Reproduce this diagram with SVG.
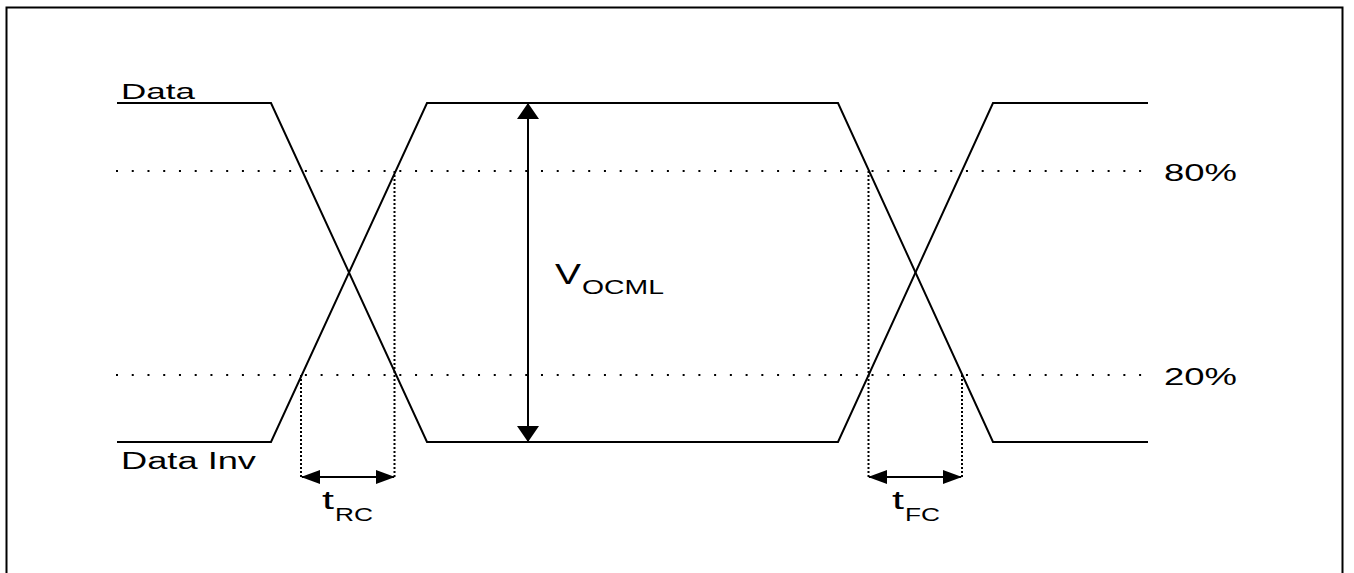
<svg xmlns="http://www.w3.org/2000/svg" width="1354" height="573" viewBox="0 0 1354 573">
<style>
.frame{fill:none;stroke:#000;stroke-width:2}
.wave{fill:none;stroke:#000;stroke-width:2;stroke-linejoin:miter}
.hdot{fill:none;stroke:#000;stroke-width:2;stroke-dasharray:2 13.74}
.vdot{fill:none;stroke:#000;stroke-width:2;stroke-dasharray:2 2}
.arr{fill:none;stroke:#000;stroke-width:2}
.lbl{font-family:"Liberation Sans",Arial,sans-serif;fill:#000}
</style>
<defs>
<marker id="headBig" viewBox="0 0 16 22" markerWidth="16" markerHeight="22" refX="15" refY="11" orient="auto-start-reverse" markerUnits="userSpaceOnUse">
<path d="M0,0 L16,11 L0,22 Z" fill="#000"/>
</marker>
<marker id="headSmall" viewBox="0 0 19 14" markerWidth="19" markerHeight="14" refX="18" refY="7" orient="auto-start-reverse" markerUnits="userSpaceOnUse">
<path d="M0,0 L19,7 L0,14 Z" fill="#000"/>
</marker>
</defs>
<rect width="1354" height="573" fill="#fff"/>
<path class="frame" d="M6.5,580 V7.5 H1342.5 V580"/>

<g id="levels">
<line class="hdot" x1="116" y1="171" x2="1145" y2="171"/>
<line class="hdot" x1="116" y1="375" x2="1145" y2="375"/>
</g>

<g id="data">
<path class="wave" d="M117,103 H271 L427,442 H838 L993,103 H1148"/>
<text class="lbl" x="121" y="99" font-size="22" textLength="74" lengthAdjust="spacingAndGlyphs">Data</text>
</g>
<g id="data-inv">
<path class="wave" d="M117,442 H271 L427,103 H838 L993,442 H1148"/>
<text class="lbl" x="121" y="469" font-size="23" textLength="135" lengthAdjust="spacingAndGlyphs">Data Inv</text>
</g>

<g id="connectors">
<line class="vdot" x1="301" y1="375" x2="301" y2="477"/>
<line class="vdot" x1="394.5" y1="171" x2="394.5" y2="477"/>
<line class="vdot" x1="868.5" y1="171" x2="868.5" y2="477"/>
<line class="vdot" x1="962" y1="375" x2="962" y2="477"/>
<line class="arr" x1="302" y1="477" x2="394" y2="477" marker-start="url(#headSmall)" marker-end="url(#headSmall)"/>
<line class="arr" x1="869" y1="477" x2="961" y2="477" marker-start="url(#headSmall)" marker-end="url(#headSmall)"/>
<line class="arr" x1="528" y1="104" x2="528" y2="441" marker-start="url(#headBig)" marker-end="url(#headBig)"/>
</g>

<g id="label-vocml">
<text class="lbl" x="555" y="284" font-size="30" textLength="26" lengthAdjust="spacingAndGlyphs">V</text>
<text class="lbl" x="582" y="294" font-size="20" textLength="82" lengthAdjust="spacingAndGlyphs">OCML</text>
</g>
<g id="label-80">
<text class="lbl" x="1164" y="181" font-size="23" textLength="73" lengthAdjust="spacingAndGlyphs">80%</text>
</g>
<g id="label-20">
<text class="lbl" x="1164" y="385" font-size="23" textLength="73" lengthAdjust="spacingAndGlyphs">20%</text>
</g>
<g id="label-trc">
<text class="lbl" x="322" y="509" font-size="26" textLength="12" lengthAdjust="spacingAndGlyphs">t</text>
<text class="lbl" x="335" y="521" font-size="18" textLength="38" lengthAdjust="spacingAndGlyphs">RC</text>
</g>
<g id="label-tfc">
<text class="lbl" x="892" y="509" font-size="26" textLength="12" lengthAdjust="spacingAndGlyphs">t</text>
<text class="lbl" x="905" y="521" font-size="18" textLength="35" lengthAdjust="spacingAndGlyphs">FC</text>
</g>
</svg>
